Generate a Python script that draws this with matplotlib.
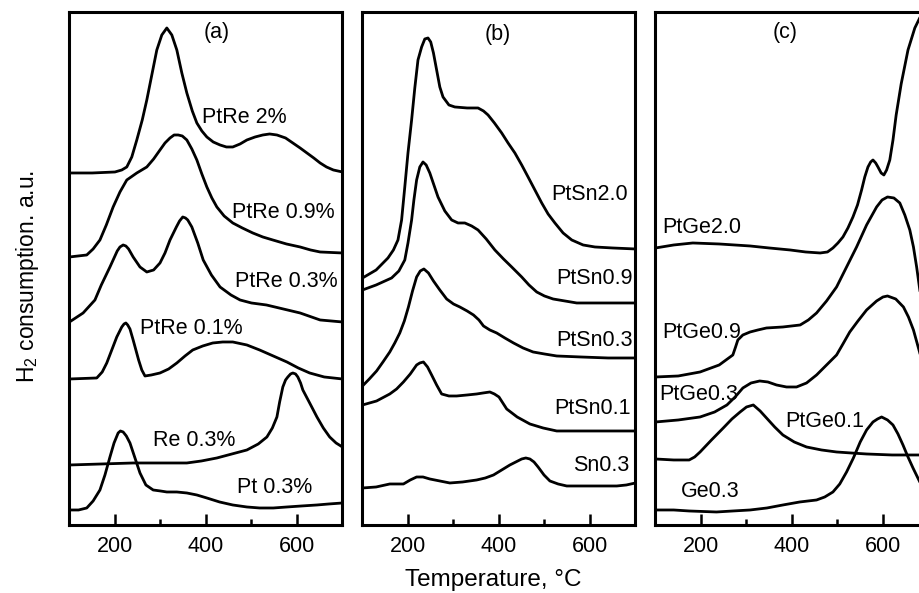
import matplotlib
matplotlib.use("Agg")
import matplotlib.pyplot as plt

plt.rcParams['font.family'] = 'Liberation Sans'
plt.rcParams['mathtext.fontset'] = 'custom'
plt.rcParams['mathtext.rm'] = 'Liberation Sans'
plt.rcParams['mathtext.it'] = 'Liberation Sans:italic'

# --- (a) PtRe series ---
t_ptre2 = [100, 150, 200, 215, 226, 237, 248, 260, 270, 281, 292, 303, 314, 325, 336, 347, 358, 370, 380, 391, 402, 416, 431, 445, 459, 475, 490, 508, 525, 540, 556, 575, 591, 607, 622, 637, 651, 665, 680, 700]
y_ptre2 = [352, 352, 353, 355, 358, 368, 385, 405, 425, 450, 475, 490, 497, 490, 475, 452, 432, 414, 402, 394, 388, 383, 380, 378, 378, 381, 385, 388, 390, 391, 390, 387, 382, 377, 372, 367, 362, 358, 355, 353]

t_ptre09 = [100, 138, 152, 167, 181, 196, 211, 226, 248, 270, 285, 299, 310, 321, 330, 339, 348, 358, 369, 380, 391, 402, 413, 424, 440, 459, 480, 503, 525, 547, 577, 607, 630, 651, 700]
y_ptre09 = [268, 270, 276, 285, 300, 318, 333, 345, 352, 358, 366, 375, 382, 387, 390, 390, 389, 385, 376, 365, 351, 338, 327, 318, 309, 302, 297, 292, 288, 285, 281, 278, 275, 273, 272]

t_ptre03 = [100, 130, 156, 170, 189, 205, 211, 218, 224, 230, 240, 255, 270, 285, 299, 310, 321, 335, 342, 349, 355, 360, 369, 382, 394, 412, 431, 455, 475, 500, 533, 570, 607, 651, 700]
y_ptre03 = [203, 212, 225, 240, 258, 274, 278, 280, 279, 276, 268, 258, 253, 255, 262, 272, 285, 298, 304, 308, 307, 305, 298, 282, 265, 250, 238, 230, 225, 222, 220, 216, 212, 205, 203]

t_ptre01 = [100, 160, 172, 182, 193, 204, 215, 220, 224, 228, 233, 240, 246, 252, 259, 266, 280, 299, 318, 336, 354, 371, 393, 415, 437, 459, 490, 518, 548, 578, 603, 628, 660, 700]
y_ptre01 = [146, 147, 153, 162, 175, 188, 198, 201, 202, 200, 196, 185, 175, 165, 155, 149, 150, 152, 156, 162, 169, 175, 179, 182, 183, 183, 180, 175, 169, 163, 157, 152, 148, 146]

t_re03 = [100, 170, 240, 300, 358, 390, 424, 457, 490, 515, 534, 546, 556, 562, 569, 575, 580, 586, 591, 597, 602, 608, 613, 628, 644, 658, 672, 686, 700]
y_re03 = [60, 61, 62, 62, 62, 64, 67, 71, 75, 81, 88, 97, 108, 123, 138, 145, 148, 151, 152, 151, 148, 142, 135, 122, 108, 97, 88, 82, 78]

t_pt03 = [100, 120, 138, 152, 167, 178, 189, 198, 207, 212, 218, 225, 233, 244, 255, 268, 284, 300, 314, 336, 358, 380, 402, 430, 459, 490, 518, 548, 578, 610, 644, 670, 700]
y_pt03 = [15, 15, 17, 24, 35, 50, 68, 82, 92, 94, 93, 89, 82, 67, 52, 40, 35, 34, 33, 33, 32, 30, 27, 23, 20, 18, 17, 17, 18, 19, 20, 21, 22]

# --- (b) PtSn series ---
t_ptsn20 = [100, 130, 156, 168, 178, 186, 193, 200, 208, 215, 222, 230, 237, 244, 250, 256, 263, 270, 277, 290, 303, 330, 354, 366, 376, 390, 406, 420, 435, 450, 464, 479, 494, 508, 523, 541, 560, 585, 611, 650, 700]
y_ptsn20 = [247, 255, 267, 275, 285, 305, 338, 372, 405, 437, 465, 478, 486, 487, 483, 472, 455, 438, 428, 420, 418, 417, 417, 414, 410, 402, 392, 382, 372, 360, 348, 335, 322, 311, 302, 292, 285, 280, 278, 277, 276]

t_ptsn09 = [100, 130, 164, 180, 193, 200, 208, 213, 219, 226, 233, 240, 248, 257, 266, 281, 296, 310, 325, 340, 354, 372, 391, 410, 428, 450, 466, 483, 500, 519, 545, 571, 620, 700]
y_ptsn09 = [235, 240, 247, 254, 265, 282, 305, 325, 345, 358, 363, 360, 352, 340, 328, 314, 305, 302, 302, 299, 295, 286, 275, 266, 258, 248, 240, 233, 229, 226, 224, 222, 222, 222]

t_ptsn03 = [100, 115, 131, 145, 160, 171, 182, 192, 201, 210, 219, 227, 235, 245, 256, 270, 285, 300, 314, 330, 344, 356, 366, 380, 395, 413, 432, 453, 475, 500, 527, 580, 640, 700]
y_ptsn03 = [139, 146, 154, 163, 173, 182, 192, 204, 218, 234, 248, 254, 256, 252, 244, 235, 226, 221, 218, 214, 210, 205, 199, 195, 192, 187, 182, 177, 173, 171, 169, 168, 167, 167]

t_ptsn01 = [100, 131, 160, 175, 190, 205, 219, 226, 234, 243, 252, 263, 274, 290, 307, 330, 351, 365, 380, 390, 400, 417, 440, 468, 497, 527, 580, 640, 700]
y_ptsn01 = [120, 124, 131, 136, 143, 151, 160, 162, 163, 158, 150, 140, 131, 129, 129, 130, 131, 132, 133, 131, 128, 116, 108, 101, 97, 94, 94, 94, 94]

t_sn03 = [100, 130, 160, 175, 190, 205, 219, 233, 248, 270, 292, 320, 351, 370, 388, 406, 424, 437, 450, 459, 468, 477, 486, 499, 512, 530, 549, 575, 600, 630, 659, 680, 700]
y_sn03 = [37, 38, 41, 41, 41, 45, 48, 48, 46, 44, 42, 43, 45, 47, 50, 55, 60, 63, 66, 67, 66, 63, 58, 50, 44, 41, 39, 39, 39, 39, 39, 40, 42]

# --- (c) PtGe series ---
t_ptge20 = [100, 140, 182, 240, 308, 350, 396, 430, 462, 478, 490, 501, 512, 523, 534, 544, 553, 560, 567, 573, 578, 584, 589, 596, 602, 608, 615, 622, 629, 640, 655, 670, 684, 700]
y_ptge20 = [277, 280, 282, 281, 279, 277, 275, 273, 272, 273, 277, 282, 288, 297, 308, 320, 335, 348, 358, 363, 365, 362, 358, 352, 350, 355, 365, 385, 410, 441, 475, 497, 510, 525]

t_ptge09 = [100, 150, 198, 240, 270, 276, 281, 292, 308, 325, 344, 380, 418, 436, 454, 476, 498, 520, 542, 564, 586, 598, 610, 624, 637, 648, 659, 667, 674, 681, 700]
y_ptge09 = [148, 149, 153, 160, 170, 178, 185, 190, 193, 195, 197, 198, 200, 205, 212, 224, 238, 258, 278, 300, 318, 325, 328, 327, 322, 310, 295, 278, 258, 235, 170]

t_ptge03 = [100, 150, 198, 230, 257, 275, 292, 310, 329, 347, 366, 388, 410, 432, 454, 476, 498, 512, 527, 545, 564, 586, 600, 610, 628, 645, 656, 667, 681, 700]
y_ptge03 = [103, 105, 108, 113, 120, 128, 137, 142, 144, 143, 140, 138, 138, 142, 150, 160, 170, 181, 193, 204, 215, 224, 228, 229, 226, 218, 208, 195, 172, 130]

t_ptge01 = [100, 140, 174, 186, 198, 223, 249, 268, 286, 300, 315, 330, 344, 362, 380, 405, 432, 465, 498, 530, 564, 620, 674, 700]
y_ptge01 = [66, 65, 65, 68, 73, 85, 97, 106, 113, 118, 120, 114, 107, 98, 90, 83, 78, 75, 73, 72, 71, 70, 70, 70]

t_ge03 = [100, 140, 174, 234, 270, 308, 345, 380, 417, 454, 472, 490, 505, 520, 535, 550, 564, 578, 588, 597, 610, 622, 633, 644, 655, 666, 681, 700]
y_ge03 = [15, 15, 14, 13, 14, 15, 17, 20, 23, 25, 28, 33, 41, 53, 67, 83, 95, 103, 106, 108, 105, 100, 91, 80, 68, 57, 43, 30]

panels = [
    ("(a)", (424, 492),
     [(t_ptre2, y_ptre2), (t_ptre09, y_ptre09), (t_ptre03, y_ptre03),
      (t_ptre01, y_ptre01), (t_re03, y_re03), (t_pt03, y_pt03)],
     [("PtRe 2%", 391, 407, "left"), ("PtRe 0.9%", 457, 312, "left"),
      ("PtRe 0.3%", 464, 243, "left"), ("PtRe 0.1%", 255, 196, "left"),
      ("Re 0.3%", 284, 84, "left"), ("Pt 0.3%", 468, 37, "left")]),
    ("(b)", (398, 490),
     [(t_ptsn20, y_ptsn20), (t_ptsn09, y_ptsn09), (t_ptsn03, y_ptsn03),
      (t_ptsn01, y_ptsn01), (t_sn03, y_sn03)],
     [("PtSn2.0", 683, 330, "right"), ("PtSn0.9", 695, 246, "right"),
      ("PtSn0.3", 695, 184, "right"), ("PtSn0.1", 690, 116, "right"),
      ("Sn0.3", 686, 59, "right")]),
    ("(c)", (386, 492),
     [(t_ptge20, y_ptge20), (t_ptge09, y_ptge09), (t_ptge03, y_ptge03),
      (t_ptge01, y_ptge01), (t_ge03, y_ge03)],
     [("PtGe2.0", 115, 297, "left"), ("PtGe0.9", 115, 192, "left"),
      ("PtGe0.3", 108, 130, "left"), ("PtGe0.1", 386, 103, "left"),
      ("Ge0.3", 156, 33, "left")]),
]

fig = plt.figure(figsize=(9.2, 5.93), dpi=100)
lefts = [0.0755, 0.394, 0.7125]

for left, (tag, tag_pos, curves, labels) in zip(lefts, panels):
    ax = fig.add_axes([left, 0.1147, 0.2967, 0.8651])
    for t, y in curves:
        ax.plot(t, y, color='black', lw=2.0, solid_joinstyle='round',
                solid_capstyle='round')
    for txt, x, y, ha in labels:
        ax.text(x, y, txt, fontsize=15.5, ha=ha, va='center')
    ax.text(tag_pos[0], tag_pos[1], tag, fontsize=15.5, ha='center', va='center')
    ax.set_xlim(100, 700)
    ax.set_ylim(0, 513)
    ax.set_xticks([200, 400, 600])
    ax.set_xticks([300, 500], minor=True)
    ax.set_yticks([])
    ax.tick_params(axis='x', which='major', direction='in', length=8, width=1.8,
                   labelsize=15.5, pad=8, top=False)
    ax.tick_params(axis='x', which='minor', direction='in', length=4, width=1.8)
    for s in ax.spines.values():
        s.set_linewidth(2.2)

fig.text(28 / 920, 1 - 276 / 593, r"H$_2$ consumption. a.u.", rotation=90,
         fontsize=16.5, ha='center', va='center')
fig.text(493 / 920, 1 - 580 / 593, "Temperature, °C", fontsize=17.5,
         ha='center', va='center')

fig.savefig("out.png", dpi=100)
